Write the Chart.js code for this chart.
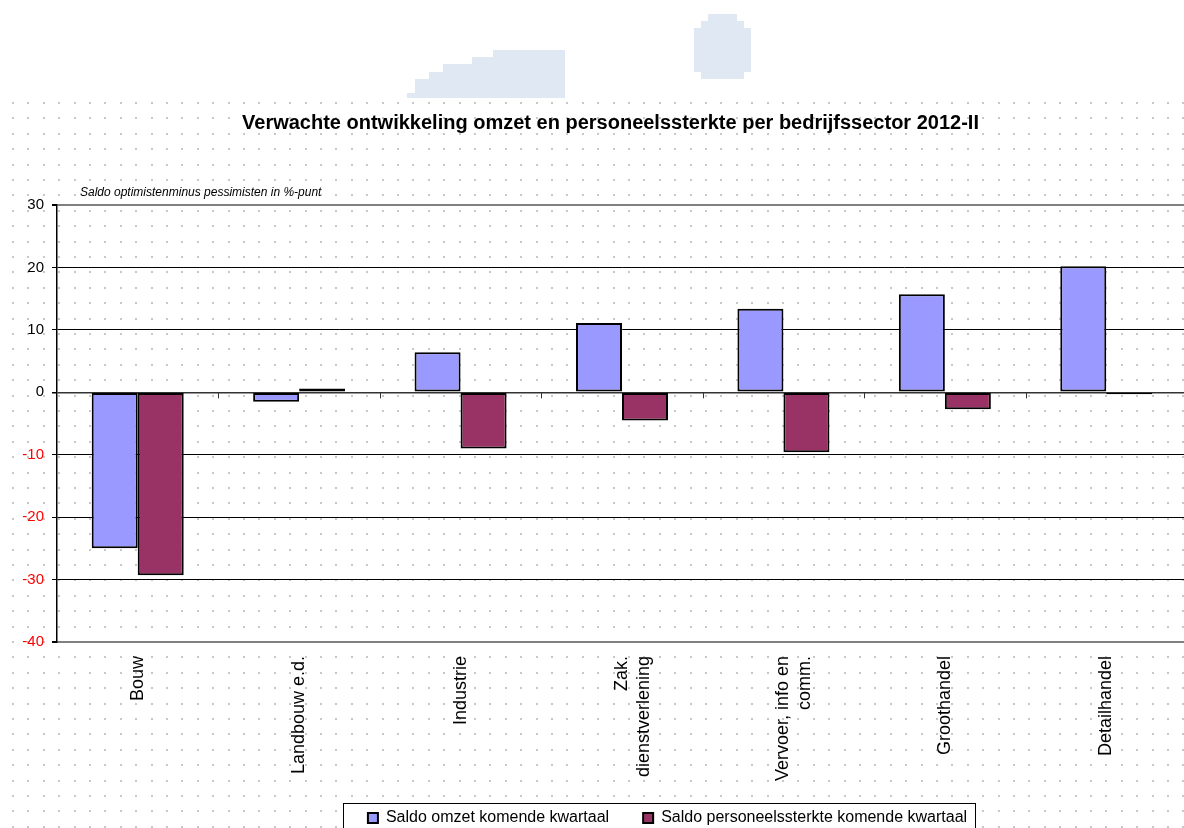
<!DOCTYPE html>
<html>
<head>
<meta charset="utf-8">
<script src="https://cdn.jsdelivr.net/npm/chart.js@4.4.0/dist/chart.umd.min.js"></script>
<style>
  html, body { margin: 0; padding: 0; background: #fff; overflow: hidden; }
  #wrap { position: relative; width: 1184px; height: 828px; overflow: hidden; }
  #chart { position: absolute; left: 0; top: 0; }
</style>
</head>
<body>
<div id="wrap"><canvas id="chart" width="1190" height="836"></canvas></div>
<script>
// sectors and the two balances (optimists minus pessimists, %-points)
var sectors = ['Bouw', 'Landbouw e.d.', 'Industrie', ['Zak.', 'dienstverlening'], ['Vervoer, info en', 'comm.'], 'Groothandel', 'Detailhandel'];
var omzet = [-25, -1.5, 6.4, 11.1, 13.4, 15.7, 20.2];
var personeel = [-29.3, 0.6, -9, -4.5, -9.6, -2.7, -0.3];
var seriesNames = ['Saldo omzet komende kwartaal', 'Saldo personeelssterkte komende kwartaal'];
var yMin = -40, yMax = 30, yStep = 10;
var chartTitle = 'Verwachte ontwikkeling omzet en personeelssterkte per bedrijfssector 2012-II';
var yNote = 'Saldo optimistenminus pessimisten in %-punt';

Chart.defaults.font.family = "Arial, 'Liberation Sans', sans-serif";

// paper background, faded shapes at the top, legend frame, zero line ticks
var backdrop = {
  id: 'backdrop',
  afterLayout: function(chart) {
    // legend and title sit right of centre in the original
    chart.legend.left += 74; chart.legend.right += 74;
    chart.titleBlock.left += 17; chart.titleBlock.right += 17;
    // let the rotated category labels run past the axis box instead of being clipped
    chart.scales.x.bottom = chart.height;
  },
  beforeDraw: function(chart) {
    var c = chart.ctx;
    c.save();
    c.fillStyle = '#fff';
    c.fillRect(0, 0, chart.width, chart.height);

    c.fillStyle = '#dfe8f3';
    var steps = [[407, 93, 8], [415, 79, 14], [429, 72, 14], [443, 64, 29], [472, 57, 21], [493, 50, 72]];
    steps.forEach(function(s) { c.fillRect(s[0], s[1], s[2], 98 - s[1]); });
    c.fillRect(708, 14, 29, 7);
    c.fillRect(701, 21, 43, 7);
    c.fillRect(694, 28, 57, 44);
    c.fillRect(701, 72, 43, 7);

    c.fillStyle = '#c8c8c8';
    for (var y = 102; y < chart.height; y += 15.4) {
      for (var x = 12; x < chart.width; x += 15.4) {
        c.fillRect(Math.round(x), Math.round(y), 2, 2);
      }
    }

    var hb = chart.legend.legendHitBoxes;
    if (hb && hb.length > 1) {
      var l = hb[0].left - 25, r = hb[1].left + hb[1].width + 8, t = hb[0].top - 7;
      c.fillStyle = '#fff';
      c.fillRect(l, t, r - l, chart.height - t);
      c.strokeStyle = '#000';
      c.lineWidth = 1;
      c.strokeRect(Math.round(l) + 0.5, Math.round(t) + 0.5, Math.round(r - l), chart.height);
    }
    c.restore();
  },
  afterDatasetsDraw: function(chart) {
    var c = chart.ctx, xs = chart.scales.x, ys = chart.scales.y;
    var zero = ys.getPixelForValue(0);
    var w = (xs.right - xs.left) / sectors.length;
    c.save();
    c.strokeStyle = '#333';
    c.lineWidth = 1;
    for (var k = 1; k <= sectors.length; k++) {
      var px = Math.round(xs.left + k * w) + 0.5;
      c.beginPath();
      c.moveTo(px, zero);
      c.lineTo(px, zero + 6);
      c.stroke();
    }
    c.fillStyle = '#000';
    c.font = "italic 12px Arial, 'Liberation Sans', sans-serif";
    c.textBaseline = 'middle';
    c.fillText(yNote, chart.chartArea.left + 23, 193);
    c.restore();
  }
};

function gridColor(ctx) {
  var v = ctx.tick ? ctx.tick.value : null;
  if (v === yMax || v === yMin) return '#808080';
  if (v === 0) return '#333';
  return '#000';
}
function gridWidth(ctx) {
  var v = ctx.tick ? ctx.tick.value : null;
  if (v === yMax || v === yMin) return 2;
  if (v === 0) return 1.5;
  return 1;
}

var myChart = new Chart(document.getElementById('chart'), {
  type: 'bar',
  data: {
    labels: sectors,
    datasets: [{
      label: seriesNames[0],
      data: omzet,
      backgroundColor: '#9999ff',
      borderColor: '#000',
      borderWidth: 2,
      borderSkipped: false
    }, {
      label: seriesNames[1],
      data: personeel,
      backgroundColor: '#993366',
      borderColor: '#000',
      borderWidth: 2,
      borderSkipped: false
    }]
  },
  options: {
    responsive: false,
    animation: false,
    datasets: { bar: { categoryPercentage: 0.57, barPercentage: 1 } },
    layout: { padding: { left: 0, right: 3, top: 0, bottom: 0 } },
    plugins: {
      title: {
        display: true,
        text: chartTitle,
        color: '#000',
        font: { size: 20, weight: 'bold' },
        padding: { top: 111, bottom: 70 }
      },
      legend: {
        position: 'bottom',
        labels: { color: '#000', font: { size: 16 }, boxWidth: 10, boxHeight: 10, padding: 34 }
      },
      tooltip: { enabled: false }
    },
    scales: {
      x: {
        grid: { display: false, drawTicks: false },
        border: { display: true, color: '#808080', width: 2 },
        ticks: { color: '#000', font: { size: 18 }, minRotation: 90, maxRotation: 90, autoSkip: false, padding: 14 },
        afterFit: function(s) { s.height = 134; }
      },
      y: {
        min: yMin,
        max: yMax,
        ticks: {
          stepSize: yStep,
          font: { size: 15 },
          padding: 8,
          color: function(ctx) { return ctx.tick.value < 0 ? '#ff0000' : '#000'; }
        },
        grid: { color: gridColor, lineWidth: gridWidth, tickLength: 5, tickColor: '#000' },
        border: { color: '#000', width: 1.5 },
        afterFit: function(s) { s.width = 57; }
      }
    }
  },
  plugins: [backdrop]
});
</script>
</body>
</html>
